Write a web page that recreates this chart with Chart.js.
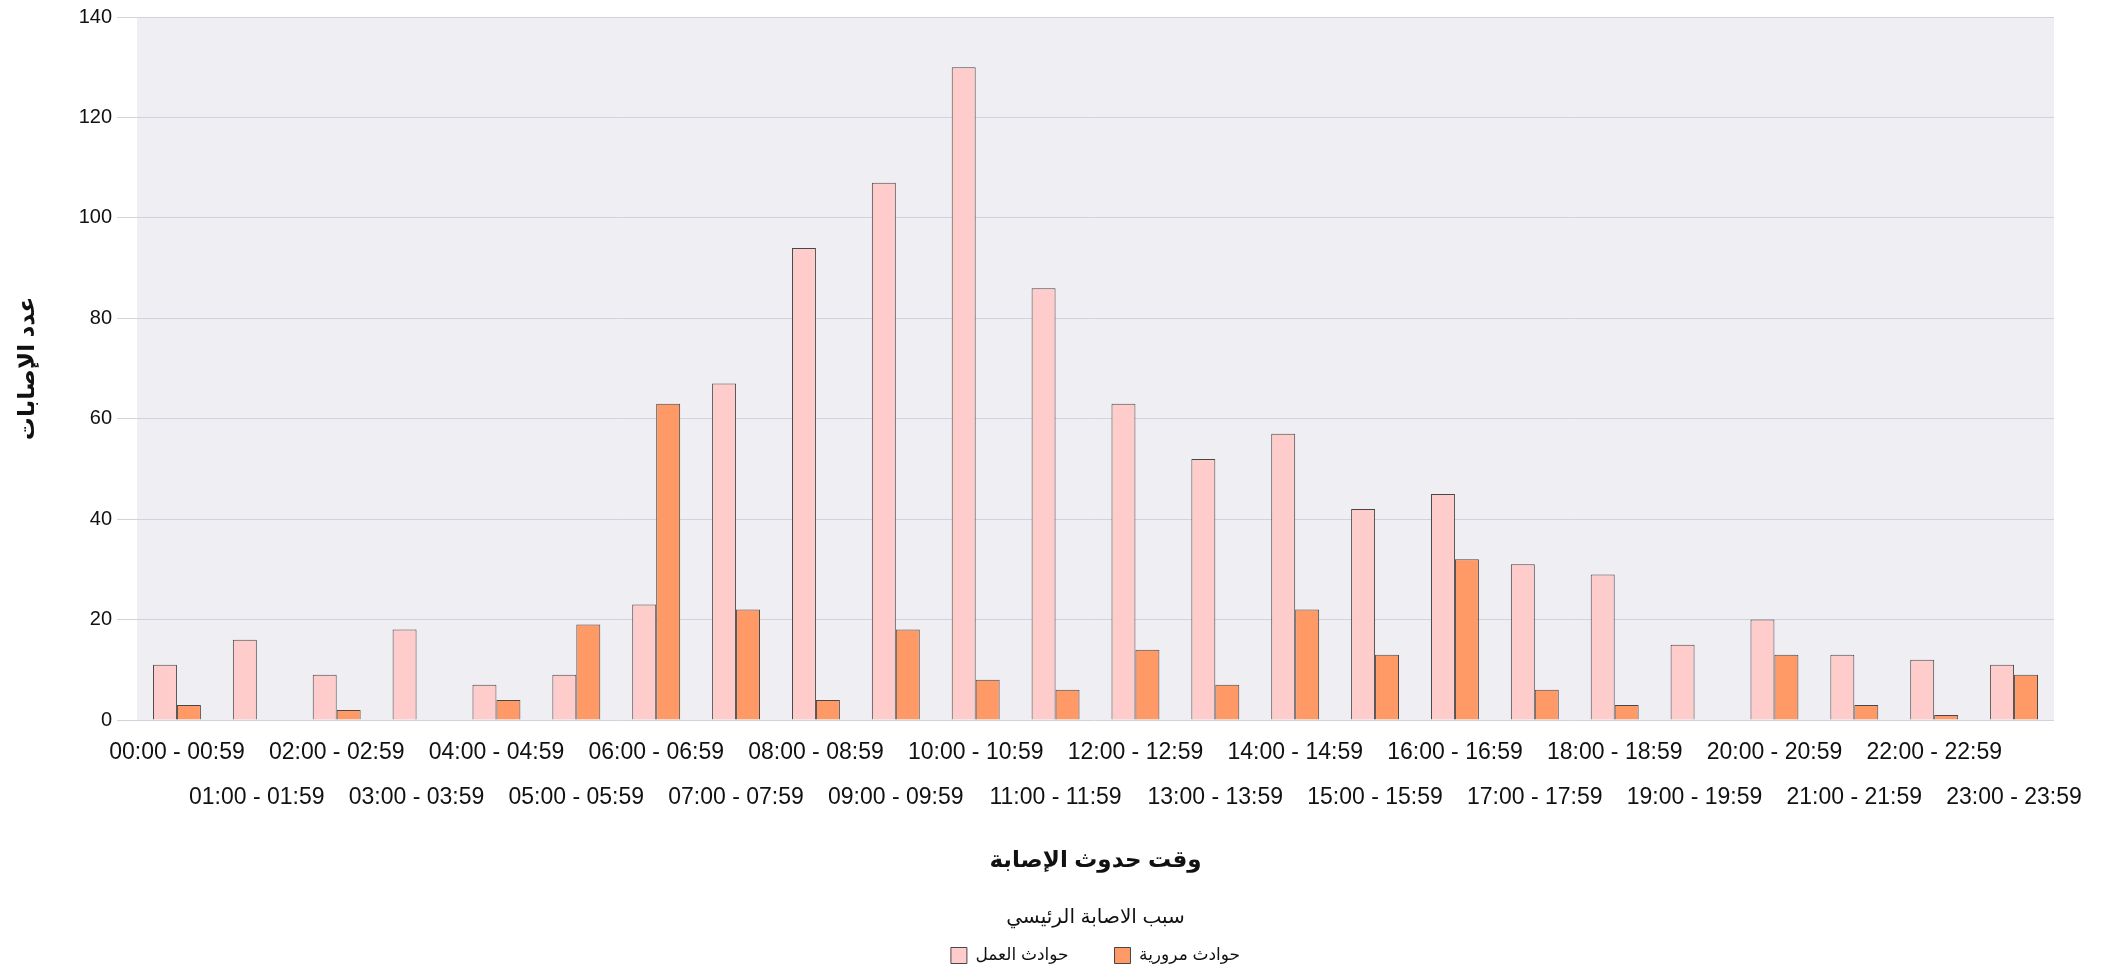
<!DOCTYPE html>
<html>
<head>
<meta charset="utf-8">
<script src="https://cdn.jsdelivr.net/npm/chart.js@4/dist/chart.umd.min.js"></script>
<style>
  html, body { margin: 0; padding: 0; background: #fff; }
  #wrap { width: 2108px; height: 971px; }
</style>
</head>
<body>
<div id="wrap"><canvas id="chart" width="2108" height="971"></canvas></div>
<script>
var hours = ['00:00 - 00:59', '01:00 - 01:59', '02:00 - 02:59', '03:00 - 03:59', '04:00 - 04:59', '05:00 - 05:59',
    '06:00 - 06:59', '07:00 - 07:59', '08:00 - 08:59', '09:00 - 09:59', '10:00 - 10:59', '11:00 - 11:59',
    '12:00 - 12:59', '13:00 - 13:59', '14:00 - 14:59', '15:00 - 15:59', '16:00 - 16:59', '17:00 - 17:59',
    '18:00 - 18:59', '19:00 - 19:59', '20:00 - 20:59', '21:00 - 21:59', '22:00 - 22:59', '23:00 - 23:59'];
var workAccidents = [11, 16, 9, 18, 7, 9, 23, 67, 94, 107, 130, 86, 63, 52, 57, 42, 45, 31, 29, 15, 20, 13, 12, 11];
var trafficAccidents = [3, 0, 2, 0, 4, 19, 63, 22, 4, 18, 8, 6, 14, 7, 22, 13, 32, 6, 3, 0, 13, 3, 1, 9];
var seriesNames = ['حوادث العمل', 'حوادث مرورية'];
var yTicks = [0, 20, 40, 60, 80, 100, 120, 140];

var FONT = '"Liberation Sans", Arial, "DejaVu Sans", sans-serif';

// paints the grey panel behind the bars
var panelBg = {
    id: 'panelBg',
    beforeDraw: function (chart) {
        var a = chart.chartArea;
        var ctx = chart.ctx;
        ctx.save();
        ctx.fillStyle = '#efeef3';
        ctx.fillRect(a.left, a.top, a.right - a.left, a.bottom - a.top);
        ctx.restore();
    }
};

var ctx = document.getElementById('chart').getContext('2d');
var myChart = new Chart(ctx, {
    type: 'bar',
    data: {
        labels: hours,
        datasets: [
            {
                label: seriesNames[0],
                data: workAccidents,
                backgroundColor: '#ffcccc',
                borderColor: '#474747',
                borderWidth: 1
            },
            {
                label: seriesNames[1],
                data: trafficAccidents,
                backgroundColor: '#ff9966',
                borderColor: '#474747',
                borderWidth: 1
            }
        ]
    },
    options: {
        responsive: false,
        animation: false,
        devicePixelRatio: 1,
        layout: { padding: { top: 6, right: 54, left: 0, bottom: -3 } },
        datasets: { bar: { categoryPercentage: 0.6, barPercentage: 1 } },
        scales: {
            x: {
                grid: { display: false },
                border: { display: false },
                afterFit: function (axis) { axis.height = 182; },
                ticks: {
                    autoSkip: false,
                    maxRotation: 0,
                    color: '#111',
                    padding: 2,
                    font: { family: FONT, size: 23, lineHeight: 1.96 },
                    // every other label drops to a second row
                    callback: function (v, i) {
                        return i % 2 ? ['', hours[i]] : hours[i];
                    }
                },
                title: {
                    display: true,
                    text: 'وقت حدوث الإصابة',
                    color: '#111',
                    font: { family: FONT, size: 23, weight: 'bold' },
                    padding: { top: 10, bottom: 28 }
                }
            },
            y: {
                min: 0,
                max: 140,
                afterBuildTicks: function (axis) {
                    axis.ticks = yTicks.map(function (v) { return { value: v }; });
                },
                afterFit: function (axis) { axis.width = 137; },
                grid: { color: '#d2d1dc', tickLength: 20, tickColor: '#d2d1dc' },
                border: { display: false },
                ticks: {
                    color: '#111',
                    padding: 5,
                    font: { family: FONT, size: 20 }
                },
                title: {
                    display: true,
                    text: 'عدد الإصابات',
                    color: '#111',
                    font: { family: FONT, size: 23, weight: 'bold' },
                    padding: { top: 14, bottom: 10 }
                }
            }
        },
        plugins: {
            tooltip: { enabled: false },
            legend: {
                position: 'bottom',
                fullSize: false,
                title: {
                    display: true,
                    text: 'سبب الاصابة الرئيسي',
                    color: '#111',
                    font: { family: FONT, size: 20 },
                    padding: { top: 5, bottom: -30 }
                },
                labels: {
                    boxWidth: 16,
                    boxHeight: 16,
                    padding: 46,
                    color: '#111',
                    font: { family: FONT, size: 17 }
                }
            }
        }
    },
    plugins: [panelBg]
});
</script>
</body>
</html>
